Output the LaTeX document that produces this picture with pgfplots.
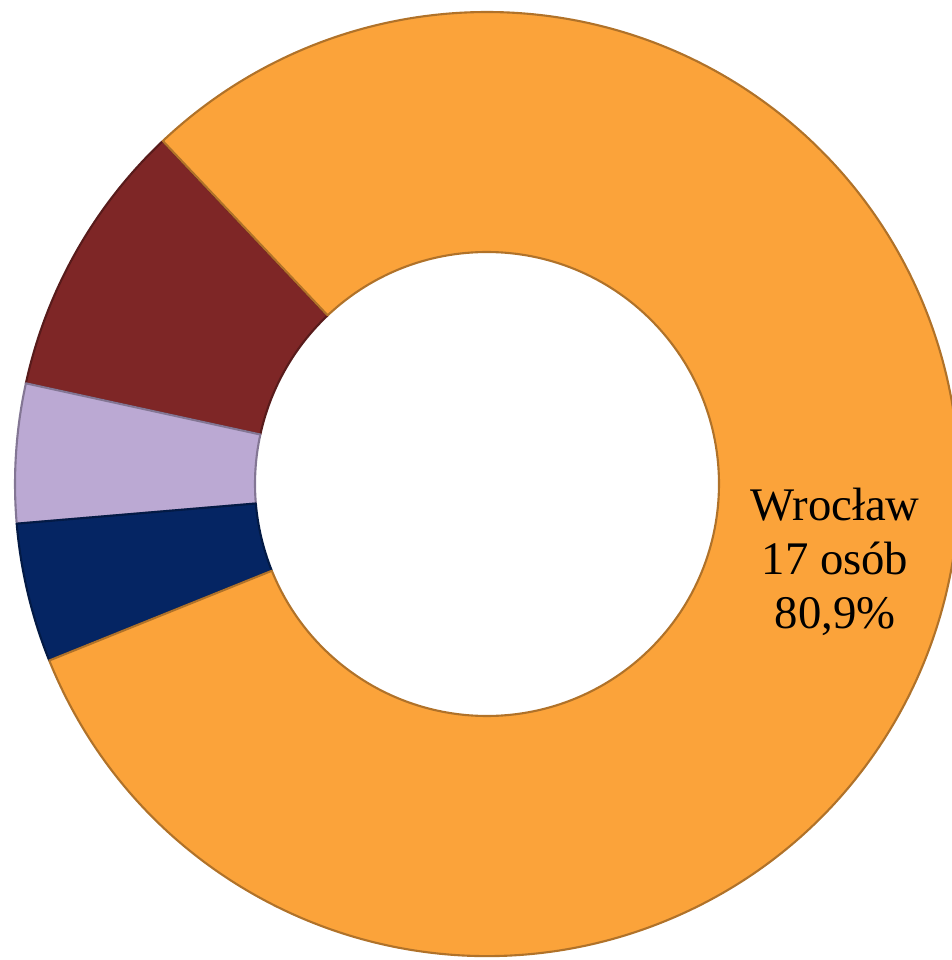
\documentclass[border=0pt]{standalone}
\usepackage{pgfplots}
\usepackage{pgfplotstable}
\pgfplotsset{compat=1.18}
\usepackage{fontspec}
\setmainfont{Liberation Serif}

\definecolor{cOrange}{HTML}{FBA33A}
\definecolor{cRed}{HTML}{7E2626}
\definecolor{cLav}{HTML}{BBA9D3}
\definecolor{cNavy}{HTML}{052563}

\pgfplotstableread{
name value
Wroclaw 17
InneA 2
InneB 1
InneC 1
}\datatable

\newcommand\sector[3]{%
  \fill[#1, draw=#1!70!black, line width=0.6pt, line join=round]
    ([shift={(#2:4.72)}]axis cs:4.87,4.76)
    arc[start angle=#2, end angle=#3, radius=4.72]
    -- ([shift={(#3:2.32)}]axis cs:4.87,4.76)
    arc[start angle=#3, end angle=#2, radius=2.32] -- cycle;}

\begin{document}%
\begin{tikzpicture}
\pgfplotstablegetelem{0}{value}\of\datatable \pgfmathsetmacro\vW{\pgfplotsretval}
\pgfplotstablegetelem{1}{value}\of\datatable \pgfmathsetmacro\vA{\pgfplotsretval}
\pgfplotstablegetelem{2}{value}\of\datatable \pgfmathsetmacro\vB{\pgfplotsretval}
\pgfplotstablegetelem{3}{value}\of\datatable \pgfmathsetmacro\vC{\pgfplotsretval}
\pgfmathsetmacro\tot{\vW+\vA+\vB+\vC}
\pgfmathsetmacro\aA{133.4}
\pgfmathsetmacro\aB{\aA+\vA/\tot*360}
\pgfmathsetmacro\aC{\aB+\vB/\tot*360}
\pgfmathsetmacro\aD{\aC+\vC/\tot*360}
\pgfmathsetmacro\aE{\aD+\vW/\tot*360}
\clip (0,0) rectangle (9.52,9.60);
\begin{axis}[
  x=1cm, y=1cm,
  xmin=0, xmax=9.52, ymin=0, ymax=9.60,
  hide axis, clip=false,
]
\sector{cRed}{\aA}{\aB}
\sector{cLav}{\aB}{\aC}
\sector{cNavy}{\aC}{\aD}
\sector{cOrange}{\aD}{\aE}
\node[align=center, font=\fontsize{13.3}{15.3}\selectfont, text=black]
  at (axis cs:8.35,3.98) {Wrocław\\17 osób\\80,9\%};
\end{axis}
\end{tikzpicture}%
\end{document}
